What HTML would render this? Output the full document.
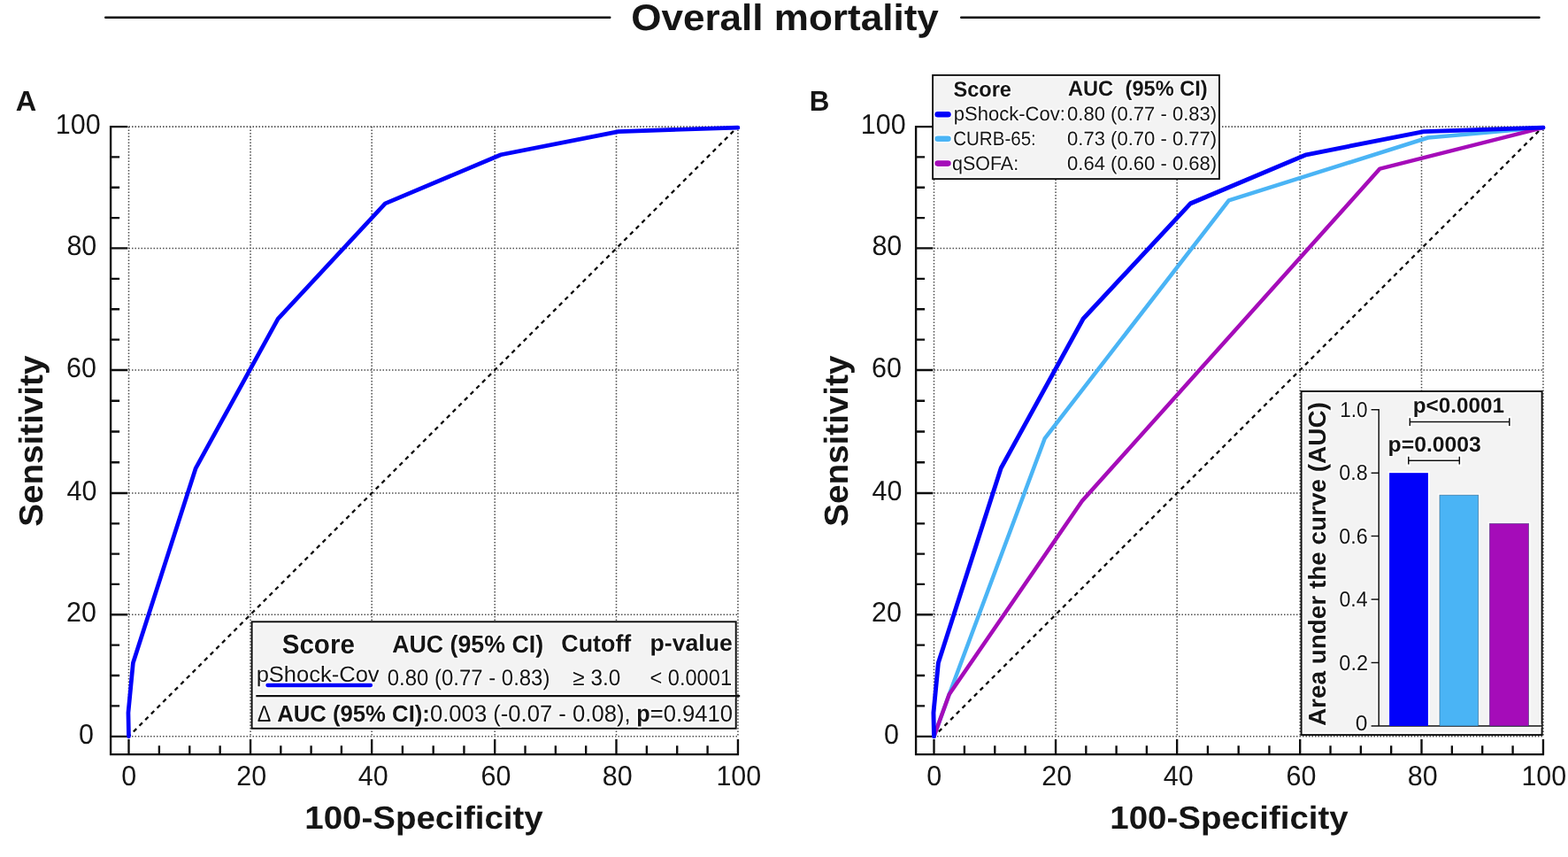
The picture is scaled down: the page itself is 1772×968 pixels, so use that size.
<!DOCTYPE html>
<html lang="en"><head><meta charset="utf-8"><title>Overall mortality</title>
<style>
html,body{margin:0;padding:0;background:#fff;}
body{width:1772px;height:968px;overflow:hidden;}
svg{display:block;}
text{font-family:"Liberation Sans",Arial,Helvetica,sans-serif;fill:#151515;text-rendering:geometricPrecision;}
.b{font-weight:bold;}
.h text{paint-order:stroke fill;stroke:#fff;stroke-width:3.2px;stroke-linejoin:round;stroke-opacity:.9;}
</style></head><body>
<svg width="1772" height="968" viewBox="0 0 1772 968">
<rect width="1772" height="968" fill="#fff"/>
<path d="M119.2 19.8H689.3M1086.2 19.8H1739.5" stroke="#0a0a0a" stroke-width="2.4" stroke-linecap="round" fill="none"/>
<text transform="translate(713.14 33.56) scale(1.0592 1)" font-size="41.60" class="b">Overall mortality</text>
<text transform="translate(17.69 124.50) scale(1.0205 1)" font-size="31.88" class="b">A</text>
<text transform="translate(914.86 124.60) scale(0.9776 1)" font-size="32.03" class="b">B</text>
<path d="M145.50 143.10V831.80M145.50 831.80H833.90M283.05 143.10V831.80M145.50 694.25H833.90M420.15 143.10V831.80M145.50 557.00H833.90M559.20 143.10V831.80M145.50 418.00H833.90M696.50 143.10V831.80M145.50 280.40H833.90M833.95 143.10V831.80M145.50 143.10H833.90" fill="none" stroke="#505050" stroke-width="1.55" stroke-dasharray="1.5 2"/>
<path d="M145.50 831.80L833.90 143.10" fill="none" stroke="#0a0a0a" stroke-width="2.3" stroke-dasharray="4.75 4.7" stroke-dashoffset="1.9"/>
<path d="M125.10 141.90V852.10H835.10M125.10 831.80H144.30M145.50 852.10V835.00M125.10 797.41H135.10M179.89 852.10V842.30M125.10 763.02H135.10M214.28 852.10V842.30M125.10 728.64H135.10M248.66 852.10V842.30M125.10 694.25H144.30M283.05 852.10V835.00M125.10 659.94H135.10M317.32 852.10V842.30M125.10 625.62H135.10M351.60 852.10V842.30M125.10 591.31H135.10M385.88 852.10V842.30M125.10 557.00H144.30M420.15 852.10V835.00M125.10 522.25H135.10M454.91 852.10V842.30M125.10 487.50H135.10M489.68 852.10V842.30M125.10 452.75H135.10M524.44 852.10V842.30M125.10 418.00H144.30M559.20 852.10V835.00M125.10 383.60H135.10M593.53 852.10V842.30M125.10 349.20H135.10M627.85 852.10V842.30M125.10 314.80H135.10M662.17 852.10V842.30M125.10 280.40H144.30M696.50 852.10V835.00M125.10 246.07H135.10M730.86 852.10V842.30M125.10 211.75H135.10M765.23 852.10V842.30M125.10 177.42H135.10M799.59 852.10V842.30M125.10 143.10H144.30M833.95 852.10V835.00" fill="none" stroke="#0d0d0d" stroke-width="2.35"/>
<text transform="translate(88.98 839.70) scale(0.9670 1)" font-size="31.50">0</text>
<text transform="translate(137.27 886.85) scale(0.9670 1)" font-size="31.50">0</text>
<text transform="translate(74.98 702.15) scale(0.9670 1)" font-size="31.50">20</text>
<text transform="translate(267.32 886.85) scale(0.9670 1)" font-size="31.50">20</text>
<text transform="translate(75.59 564.90) scale(0.9670 1)" font-size="31.50">40</text>
<text transform="translate(404.87 886.85) scale(0.9670 1)" font-size="31.50">40</text>
<text transform="translate(74.98 425.90) scale(0.9670 1)" font-size="31.50">60</text>
<text transform="translate(543.47 886.85) scale(0.9670 1)" font-size="31.50">60</text>
<text transform="translate(75.43 288.30) scale(0.9670 1)" font-size="31.50">80</text>
<text transform="translate(680.84 886.85) scale(0.9670 1)" font-size="31.50">80</text>
<text transform="translate(62.82 151.00) scale(0.9670 1)" font-size="31.50">100</text>
<text transform="translate(809.38 886.85) scale(0.9670 1)" font-size="31.50">100</text>
<path d="M145.50 831.80L144.95 804.94L150.39 748.81L221.22 528.77L314.16 360.04L435.32 229.88L566.11 174.78L698.97 148.61L833.90 144.13" fill="none" stroke="#0101fa" stroke-width="4.7" stroke-linejoin="round" stroke-linecap="round"/>
<text transform="translate(47.69 594.66) rotate(-90) scale(1.0251 1)" font-size="37.65" class="b">Sensitivity</text>
<text transform="translate(344.29 936.19) scale(1.0611 1)" font-size="36.26" class="b">100-Specificity</text>
<g class="h">
<rect x="284.6" y="702.3" width="547.1" height="120.5" fill="#fff" stroke="#111" stroke-width="2"/>
<rect x="287.1" y="704.8" width="542.1" height="115.5" fill="#f3f3f3"/>
<path d="M289.3 786.1H831" stroke="#fff" stroke-width="5.2" fill="none"/>
<path d="M289.3 786.1H836.2" stroke="#111" stroke-width="2.1" fill="none"/>
<text transform="translate(318.71 737.70) scale(0.9729 1)" font-size="30.40" class="b">Score</text>
<text transform="translate(443.13 736.80) scale(0.9667 1)" font-size="27.70" class="b">AUC (95% CI)</text>
<text transform="translate(634.33 735.70) scale(0.9871 1)" font-size="27.20" class="b">Cutoff</text>
<text transform="translate(734.47 734.70) scale(1.0260 1)" font-size="26.00" class="b">p-value</text>
<text transform="translate(437.74 773.60) scale(0.9429 1)" font-size="25.40">0.80 (0.77 - 0.83)</text>
<text transform="translate(289.64 769.90) scale(1.0251 1)" font-size="24.90">pShock-Cov</text>
<text transform="translate(647.27 773.60) scale(0.9595 1)" font-size="25.40">≥ 3.0</text>
<text transform="translate(734.42 773.60) scale(0.9305 1)" font-size="25.40">&lt; 0.0001</text>
<path d="M302.4 774H419" stroke="#fff" stroke-width="7.2" stroke-linecap="round" fill="none"/>
<path d="M302.4 774H419" stroke="#0101fa" stroke-width="4.3" stroke-linecap="round" fill="none"/>
<text transform="translate(290.80 814.70) scale(0.8973 1)" font-size="25.94">Δ</text>
<text transform="translate(313.16 815.00) scale(0.9771 1)" font-size="26.30" class="b">AUC (95% CI):</text>
<text transform="translate(485.97 815.00) scale(0.9642 1)" font-size="26.60">0.003 (-0.07 - 0.08),</text>
<text transform="translate(719.27 815.00) scale(0.9314 1)" font-size="27.00" class="b">p</text>
<text transform="translate(734.72 815.00) scale(0.9634 1)" font-size="26.60">=0.9410</text>
</g>
<path d="M1055.50 143.10V831.80M1055.50 831.80H1743.90M1193.05 143.10V831.80M1055.50 694.25H1743.90M1330.15 143.10V831.80M1055.50 557.00H1743.90M1469.20 143.10V831.80M1055.50 418.00H1743.90M1606.50 143.10V831.80M1055.50 280.40H1743.90M1743.95 143.10V831.80M1055.50 143.10H1743.90" fill="none" stroke="#505050" stroke-width="1.55" stroke-dasharray="1.5 2"/>
<path d="M1055.50 831.80L1743.90 143.10" fill="none" stroke="#0a0a0a" stroke-width="2.3" stroke-dasharray="4.75 4.7" stroke-dashoffset="1.9"/>
<path d="M1035.10 141.90V852.10H1745.10M1035.10 831.80H1054.30M1055.50 852.10V835.00M1035.10 797.41H1045.10M1089.89 852.10V842.30M1035.10 763.02H1045.10M1124.28 852.10V842.30M1035.10 728.64H1045.10M1158.66 852.10V842.30M1035.10 694.25H1054.30M1193.05 852.10V835.00M1035.10 659.94H1045.10M1227.33 852.10V842.30M1035.10 625.62H1045.10M1261.60 852.10V842.30M1035.10 591.31H1045.10M1295.88 852.10V842.30M1035.10 557.00H1054.30M1330.15 852.10V835.00M1035.10 522.25H1045.10M1364.91 852.10V842.30M1035.10 487.50H1045.10M1399.67 852.10V842.30M1035.10 452.75H1045.10M1434.44 852.10V842.30M1035.10 418.00H1054.30M1469.20 852.10V835.00M1035.10 383.60H1045.10M1503.53 852.10V842.30M1035.10 349.20H1045.10M1537.85 852.10V842.30M1035.10 314.80H1045.10M1572.17 852.10V842.30M1035.10 280.40H1054.30M1606.50 852.10V835.00M1035.10 246.07H1045.10M1640.86 852.10V842.30M1035.10 211.75H1045.10M1675.22 852.10V842.30M1035.10 177.42H1045.10M1709.59 852.10V842.30M1035.10 143.10H1054.30M1743.95 852.10V835.00" fill="none" stroke="#0d0d0d" stroke-width="2.35"/>
<text transform="translate(998.98 839.70) scale(0.9670 1)" font-size="31.50">0</text>
<text transform="translate(1047.27 886.85) scale(0.9670 1)" font-size="31.50">0</text>
<text transform="translate(984.98 702.15) scale(0.9670 1)" font-size="31.50">20</text>
<text transform="translate(1177.32 886.85) scale(0.9670 1)" font-size="31.50">20</text>
<text transform="translate(985.59 564.90) scale(0.9670 1)" font-size="31.50">40</text>
<text transform="translate(1314.87 886.85) scale(0.9670 1)" font-size="31.50">40</text>
<text transform="translate(984.98 425.90) scale(0.9670 1)" font-size="31.50">60</text>
<text transform="translate(1453.47 886.85) scale(0.9670 1)" font-size="31.50">60</text>
<text transform="translate(985.43 288.30) scale(0.9670 1)" font-size="31.50">80</text>
<text transform="translate(1590.84 886.85) scale(0.9670 1)" font-size="31.50">80</text>
<text transform="translate(972.82 151.00) scale(0.9670 1)" font-size="31.50">100</text>
<text transform="translate(1719.38 886.85) scale(0.9670 1)" font-size="31.50">100</text>
<path d="M1055.50 831.80L1072.71 784.28L1180.79 495.03L1388.69 226.43L1613.79 155.50L1743.90 144.13" fill="none" stroke="#4ab4f5" stroke-width="4.5" stroke-linejoin="round" stroke-linecap="round"/>
<path d="M1055.50 831.80L1072.71 784.28L1222.78 565.96L1559.41 190.62L1743.90 144.13" fill="none" stroke="#a50cb9" stroke-width="4.5" stroke-linejoin="round" stroke-linecap="round"/>
<path d="M1055.50 831.80L1054.95 804.94L1060.39 748.81L1131.22 528.77L1224.16 360.04L1345.32 229.88L1476.11 174.78L1608.97 148.61L1743.90 144.13" fill="none" stroke="#0101fa" stroke-width="4.9" stroke-linejoin="round" stroke-linecap="round"/>
<text transform="translate(957.69 594.66) rotate(-90) scale(1.0251 1)" font-size="37.65" class="b">Sensitivity</text>
<text transform="translate(1254.29 936.19) scale(1.0611 1)" font-size="36.26" class="b">100-Specificity</text>
<g class="h">
<rect x="1054.1" y="84.9" width="323.8" height="117.2" fill="#fff" stroke="#111" stroke-width="1.9"/>
<rect x="1056.5" y="87.3" width="319" height="112.4" fill="#f3f3f3"/>
<text transform="translate(1271.52 108.12) scale(0.9770 1)" font-size="24.17" class="b">(95% CI)</text>
<text transform="translate(1206.91 108.12) scale(0.9770 1)" font-size="24.17" class="b">AUC</text>
<text transform="translate(1077.39 108.62) scale(0.9770 1)" font-size="24.17" class="b">Score</text>
<text transform="translate(1206.02 136.15) scale(0.9965 1)" font-size="22.14">0.80 (0.77 - 0.83)</text>
<path d="M1059.7 129.2H1071.4" stroke="#fff" stroke-width="9.4" stroke-linecap="round" fill="none"/>
<path d="M1059.7 129.2H1071.4" stroke="#0101fa" stroke-width="6.6" stroke-linecap="round" fill="none"/>
<text transform="translate(1077.77 136.15) scale(0.9951 1)" font-size="22.14">pShock-Cov:</text>
<path d="M1059.7 156.8H1071.4" stroke="#fff" stroke-width="9.4" stroke-linecap="round" fill="none"/>
<path d="M1059.7 156.8H1071.4" stroke="#4ab4f5" stroke-width="6.6" stroke-linecap="round" fill="none"/>
<text transform="translate(1077.17 163.95) scale(0.9290 1)" font-size="22.14">CURB-65:</text>
<text transform="translate(1206.02 163.95) scale(0.9965 1)" font-size="22.14">0.73 (0.70 - 0.77)</text>
<path d="M1059.7 184.6H1071.4" stroke="#fff" stroke-width="9.4" stroke-linecap="round" fill="none"/>
<path d="M1059.7 184.6H1071.4" stroke="#a50cb9" stroke-width="6.6" stroke-linecap="round" fill="none"/>
<text transform="translate(1076.04 191.85) scale(0.9691 1)" font-size="22.14">qSOFA:</text>
<text transform="translate(1206.02 191.85) scale(0.9965 1)" font-size="22.14">0.64 (0.60 - 0.68)</text>
</g>
<g class="h">
<rect x="1470.6" y="442.0" width="272" height="388.1" fill="#fff" stroke="#111" stroke-width="2"/>
<rect x="1473.1" y="444.5" width="267" height="383.1" fill="#f3f3f3"/>
<path d="M1558.2 462.0V820.0M1549.6 820.0H1742M1549.6 748.54H1558.2M1549.6 677.08H1558.2M1549.6 605.62H1558.2M1549.6 534.16H1558.2M1549.6 462.70H1558.2" fill="none" stroke="#fff" stroke-width="4.6"/>
<rect x="1568.3999999999999" y="532.46" width="47.2" height="289.04" fill="#fff"/>
<rect x="1625.2" y="557.47" width="47.2" height="264.03" fill="#fff"/>
<rect x="1681.6" y="589.63" width="47.7" height="231.87" fill="#fff"/>
<path d="M1558.2 462.0V820.0M1549.6 820.0H1742M1549.6 748.54H1558.2M1549.6 677.08H1558.2M1549.6 605.62H1558.2M1549.6 534.16H1558.2M1549.6 462.70H1558.2" fill="none" stroke="#111" stroke-width="1.5"/>
<text transform="translate(1531.82 824.50) scale(1.0075 1)" font-size="24.40">0</text>
<text transform="translate(1513.36 756.64) scale(0.9615 1)" font-size="24.40">0.2</text>
<text transform="translate(1513.38 685.18) scale(0.9470 1)" font-size="24.40">0.4</text>
<text transform="translate(1513.37 613.72) scale(0.9542 1)" font-size="24.40">0.6</text>
<text transform="translate(1513.37 542.26) scale(0.9542 1)" font-size="24.40">0.8</text>
<text transform="translate(1514.31 470.80) scale(0.9221 1)" font-size="24.40">1.0</text>
<rect x="1570.1" y="534.16" width="43.8" height="285.84" fill="#0101fa" stroke="#1c3a55" stroke-opacity="0" stroke-width="0.8"/>
<rect x="1626.9" y="559.17" width="43.8" height="260.83" fill="#4ab4f5" stroke="#1c3a55" stroke-opacity="0.55" stroke-width="0.8"/>
<rect x="1683.3" y="591.33" width="44.3" height="228.67" fill="#a50cb9" stroke="#1c3a55" stroke-opacity="0.55" stroke-width="0.8"/>
<path d="M1593.3 476.6H1705.8M1593.3 472.2V481M1705.8 472.2V481M1591.8 520.2H1649.3M1591.8 515.8V524.6M1649.3 515.8V524.6" fill="none" stroke="#fff" stroke-width="4.6" stroke-linecap="square"/>
<path d="M1593.3 476.6H1705.8M1593.3 472.2V481M1705.8 472.2V481M1591.8 520.2H1649.3M1591.8 515.8V524.6M1649.3 515.8V524.6" fill="none" stroke="#111" stroke-width="1.5"/>
<text transform="translate(1596.72 465.65) scale(1.0078 1)" font-size="24.07" class="b">p&lt;0.0001</text>
<text transform="translate(1568.59 510.12) scale(1.0236 1)" font-size="24.18" class="b">p=0.0003</text>
<text transform="translate(1497.60 820.10) rotate(-90) scale(1.0148 1)" font-size="27.50" class="b">Area under the curve (AUC)</text>
</g>
</svg></body></html>
